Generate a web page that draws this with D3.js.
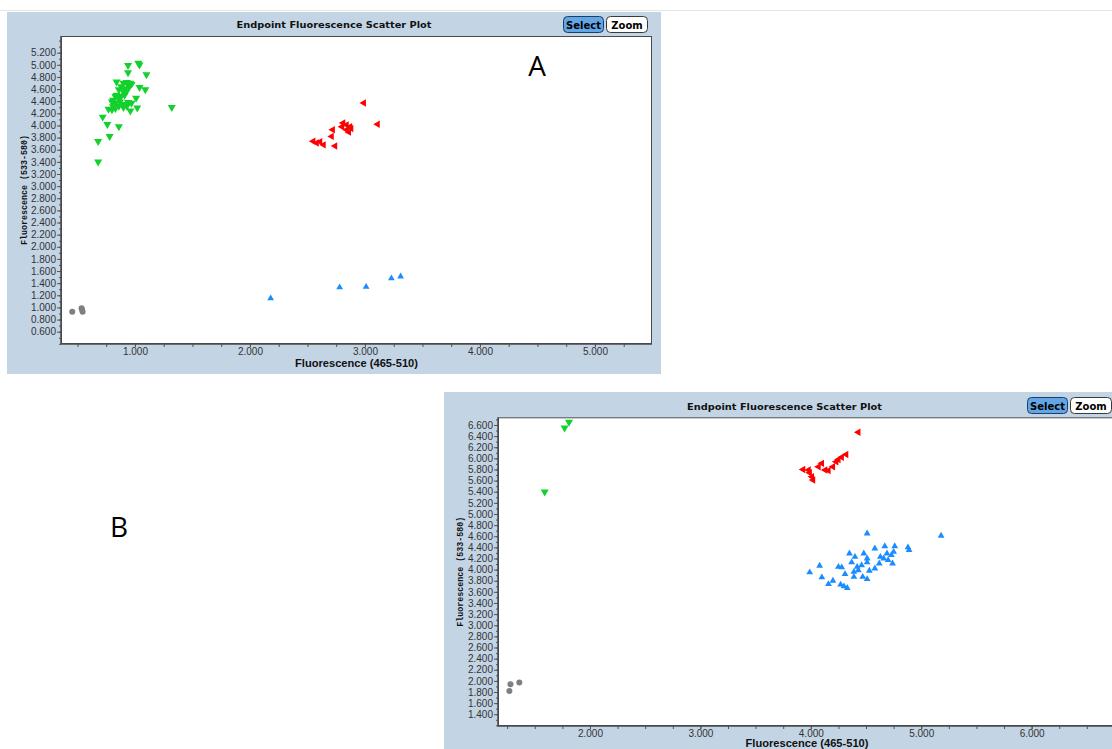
<!DOCTYPE html>
<html>
<head>
<meta charset="utf-8">
<script src="https://cdn.jsdelivr.net/npm/d3@7"></script>
<style>
  html, body { margin: 0; padding: 0; background: #fff; }
  svg { display: block; }
</style>
</head>
<body>
<svg id="chart" width="1112" height="749"></svg>
<script>
// ---- Axis tick labels ----
const xTicksA = [1, 2, 3, 4, 5];
const yTicksA = [0.6, 0.8, 1.0, 1.2, 1.4, 1.6, 1.8, 2.0, 2.2, 2.4, 2.6, 2.8, 3.0, 3.2,
                 3.4, 3.6, 3.8, 4.0, 4.2, 4.4, 4.6, 4.8, 5.0, 5.2];
const xTicksB = [2, 3, 4, 5, 6];
const yTicksB = [1.4, 1.6, 1.8, 2.0, 2.2, 2.4, 2.6, 2.8, 3.0, 3.2, 3.4, 3.6, 3.8, 4.0,
                 4.2, 4.4, 4.6, 4.8, 5.0, 5.2, 5.4, 5.6, 5.8, 6.0, 6.2, 6.4, 6.6];

// ---- Run A endpoint readings: [465-510, 533-580] ----
const greenA = [
  [1.03, 5.03], [1.04, 5.00], [0.94, 4.99], [0.94, 4.87], [1.10, 4.84], [0.84, 4.72],
  [0.90, 4.70], [0.93, 4.71], [0.96, 4.70], [0.97, 4.68], [0.94, 4.67], [0.88, 4.64],
  [0.91, 4.61], [0.95, 4.64], [0.86, 4.59], [0.90, 4.56], [0.93, 4.57], [1.04, 4.63],
  [1.09, 4.59], [0.84, 4.50], [0.83, 4.48], [0.81, 4.42], [0.86, 4.45], [0.88, 4.48],
  [0.91, 4.50], [0.80, 4.39], [0.83, 4.37], [0.87, 4.39], [0.90, 4.35], [0.94, 4.38],
  [0.97, 4.37], [1.01, 4.45], [0.81, 4.31], [0.86, 4.32], [0.90, 4.30], [0.93, 4.32],
  [0.77, 4.27], [0.80, 4.26], [0.83, 4.28], [0.96, 4.24], [1.02, 4.29], [1.32, 4.30],
  [0.72, 4.14], [0.76, 4.02], [0.86, 3.98], [0.78, 3.82], [0.68, 3.74], [0.68, 3.40]
];
const redA = [
  [2.99, 4.37], [3.11, 4.02], [2.81, 4.04], [2.84, 4.01], [2.87, 3.98], [2.80, 3.98],
  [2.88, 3.95], [2.84, 3.93], [2.86, 3.89], [2.72, 3.93], [2.71, 3.82], [2.55, 3.74],
  [2.58, 3.71], [2.64, 3.68], [2.74, 3.66], [2.61, 3.73]
];
const blueA = [[2.18, 1.15], [2.78, 1.33], [3.01, 1.34], [3.23, 1.48], [3.31, 1.51]];
const grayA = [[0.455, 0.93], [0.536, 0.985], [0.545, 0.93], [0.54, 0.96]];

// ---- Run B endpoint readings ----
const greenB = [[1.81, 6.65], [1.77, 6.55], [1.59, 5.40]];
const redB = [
  [4.43, 6.47], [4.32, 6.07], [4.25, 5.98], [4.28, 6.02], [4.23, 5.94], [4.20, 5.85],
  [4.10, 5.91], [4.13, 5.79], [4.07, 5.85], [4.16, 5.78], [3.93, 5.80], [3.98, 5.79],
  [3.99, 5.74], [4.01, 5.67], [4.02, 5.61]
];
const blueB = [
  [4.51, 4.65], [5.18, 4.61], [4.58, 4.38], [4.67, 4.42], [4.76, 4.42], [4.88, 4.40],
  [4.89, 4.35], [4.35, 4.29], [4.48, 4.29], [4.40, 4.23], [4.51, 4.20], [4.63, 4.23],
  [4.69, 4.29], [4.73, 4.26], [4.75, 4.32], [4.66, 4.20], [4.70, 4.17], [4.62, 4.11],
  [4.74, 4.11], [4.08, 4.07], [4.25, 4.05], [4.28, 4.04], [4.37, 4.13], [4.42, 4.05],
  [4.46, 4.08], [4.51, 4.13], [4.39, 3.96], [4.43, 3.99], [4.53, 3.98], [4.58, 4.02],
  [4.31, 3.92], [3.99, 3.95], [4.10, 3.86], [4.47, 3.87], [4.51, 3.83], [4.20, 3.80],
  [4.16, 3.74], [4.27, 3.73], [4.30, 3.70], [4.33, 3.67], [4.39, 3.87]
];
const grayB = [[1.28, 1.94], [1.36, 1.97], [1.27, 1.82]];

const titleText = "Endpoint Fluorescence Scatter Plot";
const xLabelText = "Fluorescence (465-510)";
const yLabelText = "Fluorescence (533-580)";

// ---- Panel layout ----
const panelA = {
  id: "A",
  box: { x: 7, y: 12, w: 654, h: 362 },
  right: 661,
  plot: { l: 61, t: 36, r: 652, b: 344 },
  xDomain: [0.357, 5.496], yDomain: [0.397, 5.475],
  xTicks: xTicksA, yTicks: yTicksA,
  titleY: 28, xLabelY: 367, yLabelX: 24,
  btnY: 16,
  tag: { text: "A", x: 537, y: 76 },
  series: { green: greenA, red: redA, blue: blueA, gray: grayA }
};
const panelB = {
  id: "B",
  box: { x: 444, y: 392, w: 681, h: 380 },
  right: 1125,
  plot: { l: 498, t: 417.3, r: 1116, b: 726 },
  xDomain: [1.167, 6.764], yDomain: [1.189, 6.738],
  xTicks: xTicksB, yTicks: yTicksB,
  titleY: 409.5, xLabelY: 747, yLabelX: 460,
  btnY: 397,
  tag: { text: "B", x: 119, y: 537 },
  series: { green: greenB, red: redB, blue: blueB, gray: grayB }
};

const colors = { green: "#12d12c", red: "#ff0000", blue: "#1b8cff", gray: "#7f7f7f", panel: "#c3d4e5" };
const fmt = d3.format(".3f");

const svg = d3.select("#chart");

// faint page rule along the top
svg.append("line")
  .attr("x1", 0).attr("x2", 1112).attr("y1", 10.5).attr("y2", 10.5)
  .attr("stroke", "#e4e4e4").attr("stroke-width", 1);

function drawPanel(cfg) {
  const g = svg.append("g").attr("class", "panel-" + cfg.id);
  const p = cfg.plot;

  g.append("rect")
    .attr("x", cfg.box.x).attr("y", cfg.box.y)
    .attr("width", cfg.box.w).attr("height", cfg.box.h)
    .attr("fill", colors.panel);

  g.append("rect")
    .attr("x", p.l).attr("y", p.t)
    .attr("width", p.r - p.l).attr("height", p.b - p.t)
    .attr("fill", "#fff");

  const x = d3.scaleLinear().domain(cfg.xDomain).range([p.l, p.r]);
  const y = d3.scaleLinear().domain(cfg.yDomain).range([p.b, p.t]);

  // x axis: minor quarter ticks plus labelled whole-number ticks
  const xMinor = d3.range(Math.ceil(cfg.xDomain[0] * 4) / 4, cfg.xDomain[1], 0.25);
  const xMinorG = g.append("g").attr("transform", `translate(0,${p.b})`)
    .call(d3.axisBottom(x).tickValues(xMinor).tickSize(3).tickFormat(""));
  const xMajorG = g.append("g").attr("transform", `translate(0,${p.b})`)
    .call(d3.axisBottom(x).tickValues(cfg.xTicks).tickSize(3).tickPadding(1).tickFormat(fmt));

  // y axis: minor ticks at half steps, labelled ticks every 0.2
  const yMinor = d3.range(Math.ceil(cfg.yDomain[0] * 10) / 10, cfg.yDomain[1], 0.1);
  const yMinorG = g.append("g").attr("transform", `translate(${p.l},0)`)
    .call(d3.axisLeft(y).tickValues(yMinor).tickSize(2).tickFormat(""));
  const yMajorG = g.append("g").attr("transform", `translate(${p.l},0)`)
    .call(d3.axisLeft(y).tickValues(cfg.yTicks).tickSize(4).tickPadding(1).tickFormat(fmt));

  [xMinorG, xMajorG, yMinorG, yMajorG].forEach(a => {
    a.select(".domain").remove();
    a.selectAll(".tick line").attr("stroke", "#555");
    a.selectAll(".tick text")
      .attr("fill", "#333")
      .style("font-family", "'Liberation Sans', Arial, sans-serif")
      .style("font-size", "10px");
  });

  // plot frame
  g.append("rect")
    .attr("x", p.l + 0.5).attr("y", p.t + 0.5)
    .attr("width", p.r - p.l - 1).attr("height", p.b - p.t - 1)
    .attr("fill", "none").attr("stroke", "#4a4a4a").attr("stroke-width", 1);
  g.append("line")
    .attr("x1", p.l).attr("x2", p.l).attr("y1", p.t).attr("y2", p.b + 0.5)
    .attr("stroke", "#4a4a4a").attr("stroke-width", 1.5);
  g.append("line")
    .attr("x1", p.l).attr("x2", p.r).attr("y1", p.b).attr("y2", p.b)
    .attr("stroke", "#4a4a4a").attr("stroke-width", 1.5);

  // title
  const cx = cfg.box.x + cfg.box.w / 2;
  g.append("text")
    .attr("x", cx).attr("y", cfg.titleY)
    .attr("text-anchor", "middle")
    .attr("textLength", 195).attr("lengthAdjust", "spacingAndGlyphs")
    .style("font-family", "'DejaVu Sans', Verdana, sans-serif")
    .style("font-weight", "bold").style("font-size", "9px")
    .attr("fill", "#111")
    .text(titleText);

  // Select / Zoom buttons
  const buttons = [
    { label: "Select", x: cfg.right - 98, w: 40, fill: "#62a6e6", stroke: "#1d3f66" },
    { label: "Zoom", x: cfg.right - 55, w: 41, fill: "#ffffff", stroke: "#3a3a3a" }
  ];
  buttons.forEach(b => {
    g.append("rect")
      .attr("x", b.x + 0.5).attr("y", cfg.btnY + 0.5)
      .attr("width", b.w).attr("height", 16)
      .attr("rx", 4).attr("ry", 4)
      .attr("fill", b.fill).attr("stroke", b.stroke).attr("stroke-width", 1);
    g.append("text")
      .attr("x", b.x + 0.5 + b.w / 2).attr("y", cfg.btnY + 12.5)
      .attr("text-anchor", "middle")
      .style("font-family", "'DejaVu Sans', Tahoma, sans-serif")
      .style("font-weight", "bold").style("font-size", "10px")
      .attr("fill", "#000")
      .text(b.label);
  });

  // axis titles
  g.append("text")
    .attr("x", (p.l + p.r) / 2).attr("y", cfg.xLabelY)
    .attr("text-anchor", "middle")
    .attr("textLength", 123).attr("lengthAdjust", "spacingAndGlyphs")
    .style("font-family", "'Liberation Sans', Arial, sans-serif")
    .style("font-weight", "bold").style("font-size", "10px")
    .attr("fill", "#111")
    .text(xLabelText);

  g.append("text")
    .attr("transform", `translate(${cfg.yLabelX},${(p.t + p.b) / 2}) rotate(-90)`)
    .attr("text-anchor", "middle")
    .attr("dominant-baseline", "central")
    .attr("textLength", 110).attr("lengthAdjust", "spacingAndGlyphs")
    .style("font-family", "'Liberation Mono', 'Courier New', monospace")
    .style("font-weight", "bold").style("font-size", "9.5px")
    .attr("fill", "#111")
    .text(yLabelText);

  // marks
  const clipId = "clip-" + cfg.id;
  g.append("clipPath").attr("id", clipId)
    .append("rect").attr("x", p.l).attr("y", p.t)
    .attr("width", p.r - p.l).attr("height", p.b - p.t);
  const marks = g.append("g").attr("clip-path", `url(#${clipId})`);

  marks.selectAll("circle.gray")
    .data(cfg.series.gray).join("circle")
    .attr("class", "gray")
    .attr("cx", d => x(d[0])).attr("cy", d => y(d[1]))
    .attr("r", 3).attr("fill", colors.gray);

  const tri = (size) => d3.symbol().type(d3.symbolTriangle).size(size)();

  marks.selectAll("path.blue")
    .data(cfg.series.blue).join("path")
    .attr("class", "blue")
    .attr("d", tri(20))
    .attr("transform", d => `translate(${x(d[0])},${y(d[1])})`)
    .attr("fill", colors.blue);

  marks.selectAll("path.red")
    .data(cfg.series.red).join("path")
    .attr("class", "red")
    .attr("d", tri(24))
    .attr("transform", d => `translate(${x(d[0])},${y(d[1])}) rotate(-90)`)
    .attr("fill", colors.red);

  marks.selectAll("path.green")
    .data(cfg.series.green).join("path")
    .attr("class", "green")
    .attr("d", tri(28))
    .attr("transform", d => `translate(${x(d[0])},${y(d[1])}) rotate(180)`)
    .attr("fill", colors.green);

  // run tag
  svg.append("text")
    .attr("x", cfg.tag.x).attr("y", cfg.tag.y)
    .attr("text-anchor", "middle")
    .style("font-family", "'Open Sans', 'Liberation Sans', sans-serif")
    .style("font-size", "28px")
    .attr("fill", "#000")
    .text(cfg.tag.text);
}

drawPanel(panelA);
drawPanel(panelB);
</script>
</body>
</html>
